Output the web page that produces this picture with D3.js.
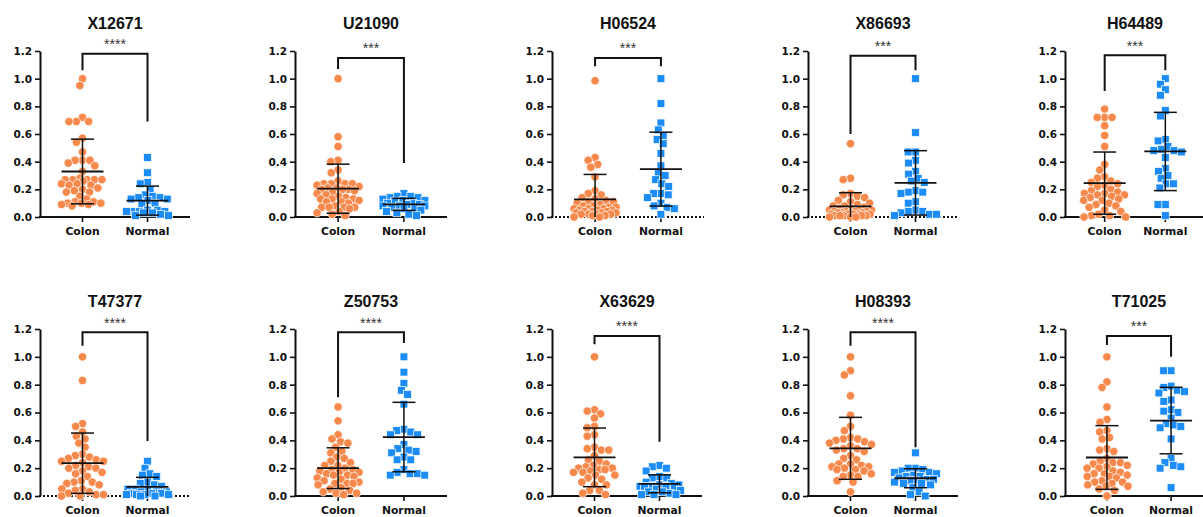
<!DOCTYPE html>
<html>
<head>
<meta charset="utf-8">
<script src="https://cdn.jsdelivr.net/npm/d3@7"></script>
<style>
  html, body { margin: 0; padding: 0; background: #fff; }
  svg { display: block; }
</style>
</head>
<body>
<div id="chart"></div>
<script>
// Expression of ten genes, colon tumour vs normal tissue
const genes = ["X12671", "U21090", "H06524", "X86693", "H64489",
               "T47377", "Z50753", "X63629", "H08393", "T71025"];
const groups = ["Colon", "Normal"];
const significance = ["****", "***", "***", "***", "***",
                      "****", "****", "****", "****", "***"];
const yTicks = [0, 0.2, 0.4, 0.6, 0.8, 1.0, 1.2];

const colon = [
  [1.00, 0.95, 0.72, 0.69, 0.69, 0.69, 0.57, 0.54, 0.47, 0.41, 0.41, 0.41, 0.39, 0.37, 0.33, 0.28, 0.27, 0.27, 0.27, 0.27, 0.27, 0.26, 0.24, 0.24, 0.23, 0.23, 0.21, 0.20, 0.19, 0.18, 0.18, 0.15, 0.13, 0.11, 0.11, 0.10, 0.10, 0.10, 0.09, 0.09, 0.08],
  [1.00, 0.58, 0.51, 0.41, 0.40, 0.34, 0.32, 0.26, 0.24, 0.24, 0.24, 0.24, 0.23, 0.22, 0.21, 0.21, 0.20, 0.20, 0.20, 0.19, 0.18, 0.17, 0.16, 0.15, 0.14, 0.13, 0.13, 0.13, 0.12, 0.11, 0.11, 0.10, 0.08, 0.07, 0.07, 0.07, 0.07, 0.06, 0.04, 0.03, 0.02, 0.01],
  [0.985, 0.43, 0.41, 0.38, 0.36, 0.29, 0.19, 0.17, 0.16, 0.14, 0.13, 0.12, 0.11, 0.11, 0.10, 0.09, 0.08, 0.08, 0.07, 0.07, 0.06, 0.06, 0.06, 0.05, 0.05, 0.05, 0.04, 0.04, 0.04, 0.03, 0.03, 0.03, 0.02, 0.02, 0.02, 0.02, 0.01, 0.01, 0.00, 0.00],
  [0.53, 0.28, 0.27, 0.17, 0.16, 0.15, 0.14, 0.12, 0.11, 0.10, 0.09, 0.08, 0.08, 0.07, 0.06, 0.06, 0.05, 0.05, 0.05, 0.04, 0.04, 0.04, 0.04, 0.03, 0.03, 0.03, 0.03, 0.02, 0.02, 0.02, 0.02, 0.02, 0.01, 0.01, 0.01, 0.01, 0.01, 0.00, 0.00, 0.00],
  [0.78, 0.72, 0.72, 0.72, 0.66, 0.59, 0.51, 0.38, 0.34, 0.29, 0.28, 0.26, 0.25, 0.24, 0.23, 0.22, 0.20, 0.19, 0.18, 0.17, 0.17, 0.16, 0.16, 0.15, 0.14, 0.13, 0.12, 0.12, 0.10, 0.09, 0.08, 0.07, 0.05, 0.04, 0.02, 0.01, 0.01, 0.00, 0.00],
  [1.00, 0.83, 0.52, 0.50, 0.46, 0.43, 0.41, 0.38, 0.35, 0.30, 0.29, 0.28, 0.27, 0.26, 0.25, 0.25, 0.24, 0.22, 0.21, 0.20, 0.20, 0.18, 0.17, 0.16, 0.14, 0.11, 0.10, 0.10, 0.09, 0.08, 0.05, 0.05, 0.04, 0.03, 0.02, 0.01, 0.01, 0.00, 0.00],
  [0.64, 0.54, 0.44, 0.41, 0.39, 0.38, 0.35, 0.32, 0.31, 0.28, 0.27, 0.25, 0.24, 0.22, 0.22, 0.20, 0.19, 0.19, 0.18, 0.17, 0.17, 0.16, 0.15, 0.15, 0.14, 0.13, 0.12, 0.11, 0.10, 0.09, 0.09, 0.09, 0.08, 0.06, 0.05, 0.04, 0.03, 0.02, 0.02, 0.01],
  [1.00, 0.62, 0.61, 0.59, 0.56, 0.50, 0.49, 0.44, 0.43, 0.35, 0.34, 0.33, 0.33, 0.29, 0.26, 0.25, 0.23, 0.22, 0.21, 0.20, 0.20, 0.19, 0.19, 0.18, 0.17, 0.17, 0.15, 0.15, 0.13, 0.12, 0.10, 0.08, 0.08, 0.04, 0.04, 0.02, 0.01],
  [1.00, 0.90, 0.87, 0.72, 0.58, 0.50, 0.47, 0.42, 0.41, 0.41, 0.40, 0.39, 0.38, 0.37, 0.36, 0.34, 0.34, 0.33, 0.32, 0.29, 0.27, 0.26, 0.23, 0.23, 0.22, 0.21, 0.21, 0.20, 0.19, 0.19, 0.18, 0.16, 0.15, 0.14, 0.14, 0.11, 0.10, 0.03],
  [1.00, 0.82, 0.78, 0.64, 0.55, 0.53, 0.47, 0.46, 0.42, 0.41, 0.34, 0.33, 0.32, 0.27, 0.25, 0.24, 0.24, 0.23, 0.22, 0.21, 0.20, 0.20, 0.18, 0.17, 0.16, 0.16, 0.15, 0.14, 0.14, 0.13, 0.11, 0.10, 0.10, 0.09, 0.08, 0.07, 0.07, 0.05, 0.04, 0.00]
];

const normal = [
  [0.43, 0.32, 0.25, 0.24, 0.20, 0.16, 0.15, 0.14, 0.14, 0.13, 0.13, 0.12, 0.10, 0.09, 0.05, 0.05, 0.04, 0.04, 0.04, 0.04, 0.03, 0.03, 0.02, 0.01, 0.01],
  [0.17, 0.15, 0.15, 0.14, 0.14, 0.13, 0.12, 0.12, 0.11, 0.10, 0.10, 0.09, 0.09, 0.08, 0.08, 0.08, 0.07, 0.06, 0.06, 0.05, 0.04, 0.03, 0.02, 0.01],
  [1.00, 0.82, 0.68, 0.63, 0.59, 0.56, 0.53, 0.46, 0.37, 0.32, 0.30, 0.27, 0.24, 0.22, 0.17, 0.17, 0.16, 0.14, 0.10, 0.08, 0.07, 0.06, 0.02],
  [1.00, 0.61, 0.47, 0.47, 0.41, 0.39, 0.33, 0.31, 0.28, 0.26, 0.25, 0.19, 0.18, 0.18, 0.17, 0.11, 0.10, 0.05, 0.04, 0.04, 0.03, 0.02, 0.02, 0.01],
  [1.00, 0.96, 0.92, 0.88, 0.77, 0.73, 0.56, 0.55, 0.51, 0.49, 0.48, 0.48, 0.47, 0.43, 0.35, 0.33, 0.30, 0.28, 0.24, 0.24, 0.21, 0.09, 0.09, 0.01],
  [0.25, 0.20, 0.16, 0.15, 0.14, 0.10, 0.09, 0.08, 0.07, 0.05, 0.05, 0.04, 0.03, 0.03, 0.03, 0.02, 0.02, 0.02, 0.01, 0.01, 0.01, 0.01, 0.00, 0.00],
  [1.00, 0.89, 0.81, 0.76, 0.73, 0.66, 0.48, 0.47, 0.46, 0.44, 0.44, 0.37, 0.34, 0.33, 0.32, 0.31, 0.28, 0.26, 0.26, 0.19, 0.17, 0.16, 0.16, 0.15, 0.15],
  [0.22, 0.21, 0.20, 0.18, 0.14, 0.13, 0.13, 0.10, 0.09, 0.08, 0.08, 0.07, 0.07, 0.07, 0.07, 0.06, 0.05, 0.04, 0.03, 0.03, 0.02, 0.01, 0.01, 0.01],
  [0.31, 0.20, 0.20, 0.19, 0.18, 0.17, 0.17, 0.16, 0.15, 0.14, 0.14, 0.13, 0.12, 0.12, 0.11, 0.11, 0.10, 0.09, 0.09, 0.08, 0.06, 0.03, 0.01, 0.00],
  [0.90, 0.90, 0.79, 0.78, 0.76, 0.75, 0.74, 0.69, 0.68, 0.62, 0.61, 0.60, 0.56, 0.52, 0.51, 0.50, 0.49, 0.41, 0.27, 0.24, 0.22, 0.21, 0.20, 0.06]
];

// Significance bracket heights (data units): crossbar, Colon leg end, Normal leg end
const bracketTop    = [1.18, 1.15, 1.15, 1.165, 1.17, 1.176, 1.176, 1.15, 1.176, 1.15];
const bracketColon  = [1.06, 1.07, 1.09, 0.60, 0.91, 1.08, 0.71, 1.09, 1.08, 1.085];
const bracketNormal = [0.69, 0.39, 1.09, 1.06, 1.06, 0.395, 1.10, 0.39, 0.35, 1.00];

// Panels drawn with a dotted baseline
const dottedBaseline = new Set(["H06524", "X86693", "T47377"]);

// ---- layout ----
const W = 1203, H = 517;
const panelLeft = [40, 295, 552, 808, 1065];
const panelWidth = [[150, 152, 152, 150, 140], [150, 152, 150, 150, 148]];
const rows = [{ base: 217, top: 51 }, { base: 496, top: 329 }];
const colors = { Colon: "#f6894b", Normal: "#1b8cf8" };
const INK = "#111";
const SPREAD = 21;   // max sideways offset of a point from its group centre

const svg = d3.select("#chart").append("svg")
  .attr("width", W).attr("height", H)
  .attr("viewBox", `0 0 ${W} ${H}`);

// Beeswarm: spread points sideways so markers do not overlap, within ±SPREAD;
// where a row is full, the point goes where it overlaps its neighbours least.
function swarm(vals, y, diam, maxW) {
  const nodes = vals.map(v => ({ v, py: y(v), dx: 0 }))
    .sort((a, b) => a.py - b.py);
  const placed = [];
  for (const n of nodes) {
    const near = placed.filter(q => Math.abs(q.py - n.py) < diam);
    const cands = [0];
    for (const q of near) {
      const d = Math.sqrt(diam * diam - (q.py - n.py) ** 2);
      cands.push(q.dx + d, q.dx - d);
    }
    const ok = cands
      .filter(c => Math.abs(c) <= maxW)
      .sort((a, b) => Math.abs(a) - Math.abs(b) || a - b)
      .find(c => near.every(q => (q.dx - c) ** 2 + (q.py - n.py) ** 2 >= diam * diam - 1e-6));
    if (ok !== undefined) {
      n.dx = ok;
    } else {
      let best = 0, bestScore = -Infinity;
      for (let c = -maxW; c <= maxW + 1e-9; c += 0.5) {
        const score = d3.min(near, q => (q.dx - c) ** 2 + (q.py - n.py) ** 2) - 1e-3 * Math.abs(c);
        if (score > bestScore) { bestScore = score; best = c; }
      }
      n.dx = best;
    }
    placed.push(n);
  }
  return nodes;
}

genes.forEach((gene, i) => {
  const r = Math.floor(i / 5), c = i % 5;
  const { base, top } = rows[r];
  const left = panelLeft[c], width = panelWidth[r][c];

  const y = d3.scaleLinear().domain([0, 1.2]).range([base, top]);
  const x = d3.scalePoint().domain(groups).range([left, left + width]).padding(0.654);

  const g = svg.append("g").attr("class", "panel");

  // title
  g.append("text")
    .attr("x", left + width / 2).attr("y", top - 22)
    .attr("text-anchor", "middle")
    .style("font", "bold 16px 'Liberation Sans', Arial, sans-serif")
    .attr("fill", INK)
    .text(gene);

  // y axis
  const ya = g.append("g")
    .attr("transform", `translate(${left},0)`)
    .call(d3.axisLeft(y).tickValues(yTicks).tickFormat(d3.format(".1f"))
      .tickSize(5).tickSizeOuter(0).tickPadding(3));
  ya.select(".domain").attr("stroke", INK).attr("stroke-width", 2);
  ya.selectAll(".tick line").attr("stroke", INK).attr("stroke-width", 1.6);
  ya.selectAll(".tick text")
    .attr("fill", INK)
    .style("font", "bold 10.5px 'DejaVu Sans', sans-serif");

  // x axis
  const xa = g.append("g");
  xa.append("line")
    .attr("x1", left - 1).attr("x2", left + width)
    .attr("y1", y(0)).attr("y2", y(0))
    .attr("stroke", INK).attr("stroke-width", 2)
    .attr("stroke-dasharray", dottedBaseline.has(gene) ? "2,2" : null);
  xa.selectAll("line.tick").data(groups).join("line")
    .attr("class", "tick")
    .attr("x1", d => x(d)).attr("x2", d => x(d))
    .attr("y1", y(0)).attr("y2", y(0) + 5)
    .attr("stroke", INK).attr("stroke-width", 1.6);
  xa.selectAll("text").data(groups).join("text")
    .attr("x", d => x(d)).attr("y", y(0) + 18)
    .attr("text-anchor", "middle")
    .attr("fill", INK)
    .style("font", "bold 10.8px 'DejaVu Sans', sans-serif")
    .text(d => d);

  // points
  const colonNodes = swarm(colon[i], y, 7.4, SPREAD);
  const normalNodes = swarm(normal[i], y, 7.4, SPREAD);

  g.append("g").selectAll("circle").data(colonNodes).join("circle")
    .attr("cx", d => x("Colon") + d.dx).attr("cy", d => d.py)
    .attr("r", 4.2)
    .attr("fill", colors.Colon).attr("stroke", "#fff").attr("stroke-width", 0.7);

  const s = 7.8;
  g.append("g").selectAll("rect").data(normalNodes).join("rect")
    .attr("x", d => x("Normal") + d.dx - s / 2).attr("y", d => d.py - s / 2)
    .attr("width", s).attr("height", s)
    .attr("fill", colors.Normal).attr("stroke", "#fff").attr("stroke-width", 0.7);

  // mean ± SD
  [["Colon", colon[i]], ["Normal", normal[i]]].forEach(([grp, vals]) => {
    const m = d3.mean(vals), sd = d3.deviation(vals);
    const cx = x(grp);
    const hi = m + sd, lo = Math.max(0, m - sd);
    const eb = g.append("g").attr("stroke", INK);
    eb.append("line").attr("x1", cx).attr("x2", cx)
      .attr("y1", y(hi)).attr("y2", y(lo)).attr("stroke-width", 1.5);
    eb.append("line").attr("x1", cx - 21).attr("x2", cx + 21)
      .attr("y1", y(m)).attr("y2", y(m)).attr("stroke-width", 1.8);
    eb.append("line").attr("x1", cx - 11.5).attr("x2", cx + 11.5)
      .attr("y1", y(hi)).attr("y2", y(hi)).attr("stroke-width", 1.5);
    if (m - sd > 0) {
      eb.append("line").attr("x1", cx - 11.5).attr("x2", cx + 11.5)
        .attr("y1", y(lo)).attr("y2", y(lo)).attr("stroke-width", 1.5);
    }
  });

  // significance bracket
  const bx1 = x("Colon"), bx2 = x("Normal");
  g.append("path")
    .attr("d", d3.line()([[bx1, y(bracketColon[i])], [bx1, y(bracketTop[i])],
                          [bx2, y(bracketTop[i])], [bx2, y(bracketNormal[i])]]))
    .attr("fill", "none").attr("stroke", INK).attr("stroke-width", 2);
  g.append("text")
    .attr("x", (bx1 + bx2) / 2).attr("y", y(bracketTop[i]) - 4.5)
    .attr("text-anchor", "middle")
    .attr("fill", "#333")
    .style("font", "14px 'Liberation Sans', Arial, sans-serif")
    .text(significance[i]);
});
</script>
</body>
</html>
